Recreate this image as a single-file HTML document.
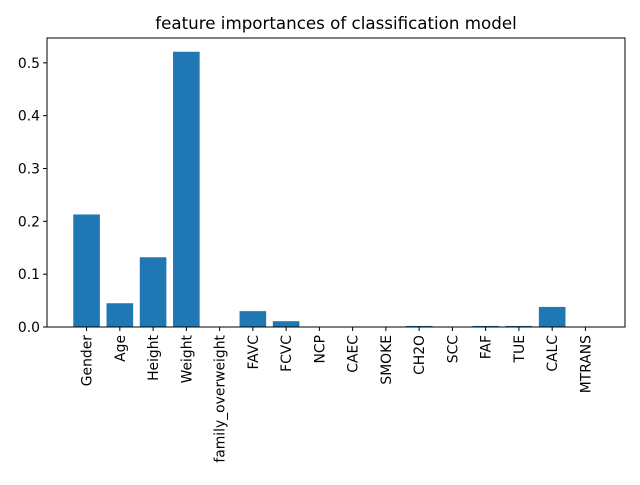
<!DOCTYPE html>
<html><head><meta charset="utf-8"><style>
body{margin:0;background:#fff;}
svg text{font-family:"DejaVu Sans","Liberation Sans",sans-serif;fill:#000;}
</style></head><body>
<svg id="chart" width="640" height="480">
<text x="336" y="29" font-size="16.7" text-anchor="middle">feature importances of classification model</text>
<g id="marks"></g>
<rect x="47" y="38" width="578" height="289" fill="none" stroke="#000" stroke-width="1"/>
</svg>
<script>
const categories=["Gender","Age","Height","Weight","family_overweight","FAVC","FCVC","NCP","CAEC","SMOKE","CH2O","SCC","FAF","TUE","CALC","MTRANS"];
const importances=[0.213,0.045,0.132,0.521,0.0,0.030,0.011,0.0,0.0,0.0,0.002,0.0,0.002,0.002,0.038,0.0];
const yTicks=[0.0,0.1,0.2,0.3,0.4,0.5];
const yTickLabels=["0.0","0.1","0.2","0.3","0.4","0.5"];
const ns="http://www.w3.org/2000/svg";
const L=47,R=625,T=38,B=327;
const xmin=-1.19,xmax=categories.length-1+1.19;
const ymax=0.547;
function x(i){return L+(i-xmin)/(xmax-xmin)*(R-L);}
function y(v){return B-v/ymax*(B-T);}
const g=document.getElementById('marks');
function el(t,a){const e=document.createElementNS(ns,t);for(const k in a)e.setAttribute(k,a[k]);g.appendChild(e);return e;}
const step=x(1)-x(0),bw=step*0.8;
importances.forEach((v,i)=>{
 const r=el('rect',{x:x(i)-bw/2,y:y(v),width:bw,height:B-y(v),fill:'#1f77b4'});
 
 
});
categories.forEach((c,i)=>{
 const tk=el('line',{x1:x(i),x2:x(i),y1:B,y2:B+4,stroke:'#000'});
 
 
 const t=el('text',{x:0,y:0,'font-size':13.9,'text-anchor':'end',transform:`translate(${x(i)+5},${B+8}) rotate(-90)`});
 t.textContent=c;
 
 
});
yTicks.forEach((v,i)=>{
 const tk=el('line',{x1:L-4,x2:L,y1:y(v),y2:y(v),stroke:'#000'});
 
 
 const t=el('text',{x:L-7,y:y(v)+5,'font-size':13.9,'text-anchor':'end'});
 t.textContent=yTickLabels[i];
 
 
});
</script>
</body></html>
